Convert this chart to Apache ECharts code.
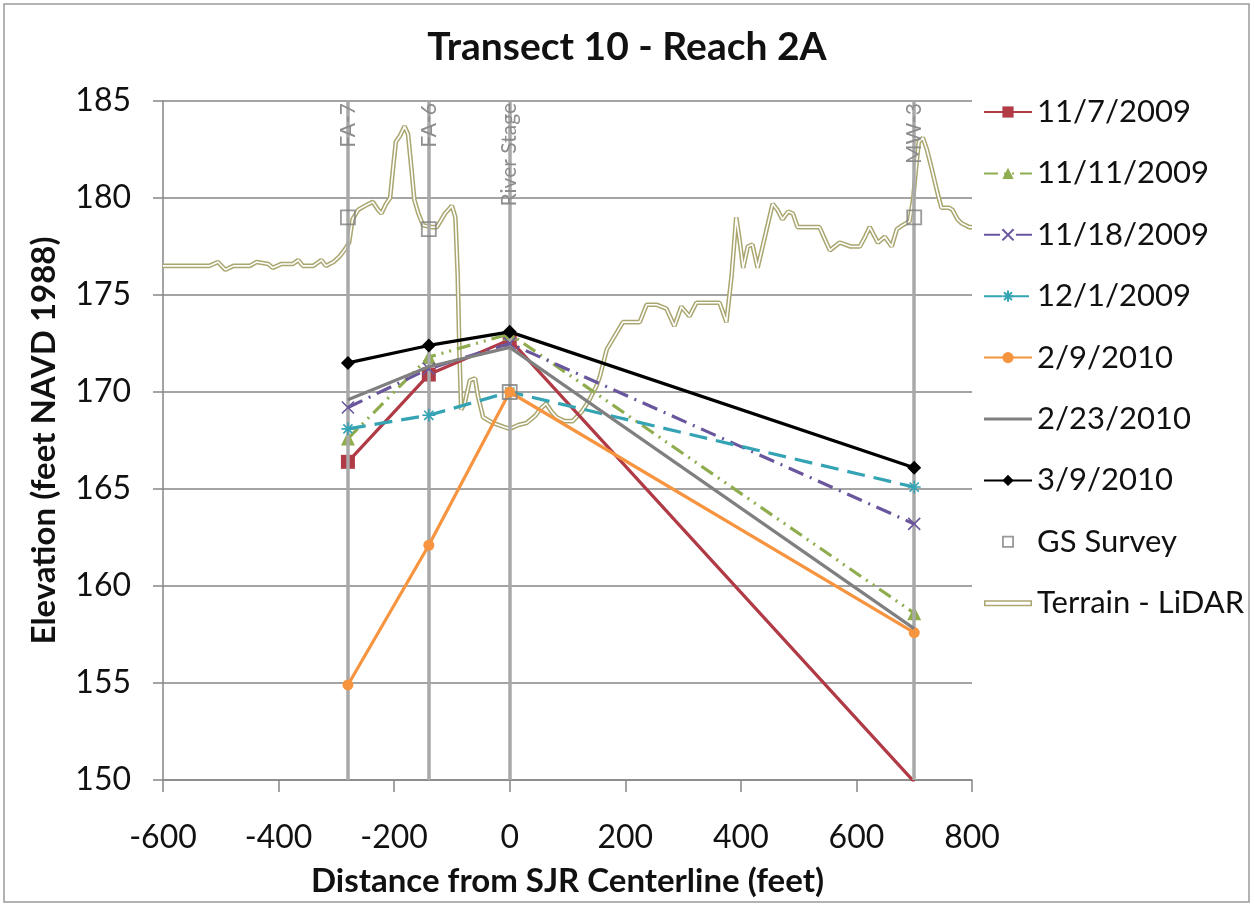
<!DOCTYPE html>
<html>
<head>
<meta charset="utf-8">
<title>Transect 10 - Reach 2A</title>
<script src="https://cdn.jsdelivr.net/npm/echarts@6/dist/echarts.min.js"></script>
<style>
    html, body { margin: 0; padding: 0; background: #fff; }
    #chart-panel { width: 1254px; height: 907px; }
</style>
</head>
<body>
<div id="chart-panel"></div>
<script>
// well positions along the transect (feet from SJR centerline)
var wellX = [-280, -140, 0, 700]
var wellNames = ['FA-7', 'FA-6', 'River Stage', 'MW-3']

// water level readings per date, one value per well
var dates = ['11/7/2009', '11/11/2009', '11/18/2009', '12/1/2009', '2/9/2010', '2/23/2010', '3/9/2010']
var lvl_1107 = [166.4, 170.9, 172.7, 149.9]
var lvl_1111 = [167.6, 171.8, 173.0, 158.6]
var lvl_1118 = [169.2, 171.2, 172.5, 163.2]
var lvl_1201 = [168.1, 168.8, 170.0, 165.1]
var lvl_0209 = [154.9, 162.1, 170.0, 157.6]
var lvl_0223 = [169.6, 171.3, 172.3, 157.8]
var lvl_0309 = [171.5, 172.4, 173.1, 166.1]

// ground surface survey at the wells
var surveyY = [179.0, 178.4, 170.0, 179.0]

// LiDAR terrain profile
var terrainX = [-600, -520, -505, -492, -478, -450, -438, -418, -410, -395, -375, -366, -358, -340, -326, -318,
    -305, -294, -284, -278, -272, -262, -250, -237, -228, -222, -214, -207, -202, -197, -190, -182, -176,
    -170, -165, -158, -150, -135, -126, -112, -100, -94, -90, -87, -84, -78, -69, -60, -55, -46, -29, -10,
    0, 15, 29, 45, 52, 63, 72, 81, 95, 109, 125, 138, 150, 156, 168, 178, 196, 225, 237, 254, 271, 285,
    297, 311, 323, 345, 363, 368, 375, 384, 392, 398, 404, 412, 420, 429, 440, 455, 463, 472, 482, 490,
    498, 515, 536, 545, 554, 571, 590, 606, 615, 623, 630, 637, 649, 661, 670, 680, 692, 698, 703, 708,
    715, 722, 732, 740, 747, 760, 766, 775, 782, 795, 800]
var terrainY = [176.5, 176.5, 176.7, 176.3, 176.5, 176.5, 176.7, 176.6, 176.4, 176.6, 176.6, 176.8, 176.5, 176.5, 176.8, 176.5,
    176.7, 177.0, 177.4, 177.7, 178.9, 179.4, 179.6, 179.8, 179.4, 179.2, 179.7, 180.0, 181.5, 182.9, 183.2, 183.7, 183.3,
    181.5, 179.9, 179.2, 178.6, 178.5, 178.5, 179.2, 179.6, 179.0, 176.0, 172.0, 169.1, 169.4, 170.6, 170.7, 169.8, 168.7, 168.4, 168.2,
    168.1, 168.3, 168.4, 168.8, 169.1, 169.4, 169.0, 168.7, 168.5, 168.5, 169.0, 169.6, 170.3, 170.8, 172.2, 172.7, 173.6, 173.6, 174.5, 174.5, 174.3, 173.4,
    174.4, 173.9, 174.6, 174.6, 174.6, 174.2, 173.6, 176.0, 179.0, 177.8, 176.4, 177.5, 177.6, 176.4, 177.8, 179.7, 179.4, 178.9, 179.3, 179.2,
    178.5, 178.5, 178.5, 177.9, 177.3, 177.7, 177.5, 177.5, 178.0, 178.5, 178.1, 177.7, 178.0, 177.5, 178.4, 178.6, 178.8, 179.9, 181.5, 182.9,
    183.1, 182.5, 181.3, 180.3, 179.5, 179.5, 179.4, 178.9, 178.7, 178.5, 178.5]

function pairs (xs, ys) {
    return xs.map(function (x, i) { return [x, ys[i]] })
}

var xMark = 'path://M0,0L10,10M10,0L0,10'
var starMark = 'path://M5,0L5,10M0,5L10,5M1.5,1.5L8.5,8.5M8.5,1.5L1.5,8.5'
// legend icons: tiny corner points keep the 48x14 box so the shapes are not stretched
var terrainIcon = 'path://M0,0L0,0Z M48,14L48,14Z M0,4H48V10H0Z M1.5,5.5V8.5H46.5V5.5Z'
var surveyIcon = 'path://M0,0L0,0Z M48,14L48,14Z M18,1H30V13H18Z M19.8,2.8V11.2H28.2V2.8Z'
var plainLineIcon = 'path://M0,0L0,0Z M48,14L48,14Z M0,5.5H48V8.5H0Z'

function levelSeries (name, values, color, dash, symbol, size, z) {
    return {
        name: name,
        type: 'line',
        z: z,
        data: pairs(wellX, values),
        symbol: symbol,
        symbolSize: size,
        showSymbol: symbol !== 'none',
        lineStyle: { color: color, width: 3.2, type: dash },
        itemStyle: { color: color, borderColor: color, borderWidth: symbol.indexOf('path') === 0 ? 1.6 : 0 },
        emphasis: { disabled: true },
        animation: false
    }
}

var axisGray = '#868686'
var txt = '#111'

var chartOption = {
    backgroundColor: '#fff',
    animation: false,
    graphic: [{
        type: 'rect',
        shape: { x: 4, y: 4, width: 1245, height: 898 },
        style: { fill: 'none', stroke: '#9a9a9a', lineWidth: 1.5 },
        silent: true
    }],
    title: {
        text: 'Transect 10 - Reach 2A',
        left: 'center',
        top: 23,
        textStyle: {
            fontFamily: 'Lato',
            fontWeight: 'bold',
            fontSize: 39,
            color: txt
        }
    },
    grid: {
        left: 163,
        right: 282,
        top: 101,
        bottom: 127
    },
    legend: {
        orient: 'vertical',
        left: 978,
        top: 91,
        itemWidth: 48,
        itemHeight: 14,
        itemGap: 29.4,
        textStyle: {
            fontFamily: 'Lato',
            fontSize: 31,
            lineHeight: 32,
            color: txt
        },
        data: dates.slice(0, 5).concat([
            { name: dates[5], icon: plainLineIcon, itemStyle: { color: '#808080', borderWidth: 0 } },
            dates[6],
            { name: 'GS Survey', icon: surveyIcon, itemStyle: { color: '#7f7f7f', borderWidth: 0 } },
            { name: 'Terrain - LiDAR', icon: terrainIcon, itemStyle: { color: '#aaa670', borderWidth: 0 } }
        ])
    },
    xAxis: {
        type: 'value',
        min: -600,
        max: 800,
        interval: 200,
        name: 'Distance from SJR Centerline (feet)',
        nameLocation: 'middle',
        nameGap: 85,
        nameTextStyle: {
            fontFamily: 'Lato',
            fontWeight: 'bold',
            fontSize: 33,
            color: txt
        },
        axisLine: { show: true, onZero: false, lineStyle: { color: axisGray, width: 1.5 } },
        axisTick: { show: true, length: 12, lineStyle: { color: axisGray, width: 1.5 } },
        axisLabel: {
            margin: 42,
            fontFamily: 'Lato',
            fontSize: 32,
            color: txt
        },
        splitLine: { show: false }
    },
    yAxis: {
        type: 'value',
        min: 150,
        max: 185,
        interval: 5,
        name: 'Elevation (feet NAVD 1988)',
        nameLocation: 'middle',
        nameGap: 102,
        nameTextStyle: {
            fontFamily: 'Lato',
            fontWeight: 'bold',
            fontSize: 33,
            color: txt
        },
        axisLine: { show: true, onZero: false, lineStyle: { color: axisGray, width: 1.5 } },
        axisTick: { show: true, length: 10, lineStyle: { color: axisGray, width: 1.5 } },
        axisLabel: {
            margin: 32,
            fontFamily: 'Lato',
            fontSize: 32,
            color: txt
        },
        splitLine: { show: true, lineStyle: { color: axisGray, width: 1.5 } }
    },
    series: [
        {
            // well position lines
            name: 'wells',
            type: 'line',
            z: 1,
            data: [],
            silent: true,
            markLine: {
                silent: true,
                symbol: ['none', 'none'],
                animation: false,
                lineStyle: { color: '#a9a9a9', width: 3.5, type: 'solid' },
                label: {
                    show: true,
                    position: 'insideEnd',
                    distance: 2,
                    formatter: '{b}',
                    fontFamily: 'Lato',
                    fontSize: 21,
                    color: '#8c8c8c'
                },
                data: wellX.map(function (x, i) {
                    return [{ coord: [x, 150], name: wellNames[i] }, { coord: [x, 185] }]
                })
            }
        },
        {
            name: 'Terrain - LiDAR',
            type: 'line',
            z: 2,
            data: pairs(terrainX, terrainY),
            showSymbol: false,
            symbol: 'none',
            lineStyle: { color: '#aaa670', width: 4.6 },
            itemStyle: { color: '#aaa670' },
            emphasis: { disabled: true }
        },
        {
            // inner gap of the double terrain line
            name: 'terrain-inner',
            type: 'line',
            z: 2,
            data: pairs(terrainX, terrainY),
            showSymbol: false,
            symbol: 'none',
            lineStyle: { color: '#ffffff', width: 1.6 },
            emphasis: { disabled: true }
        },
        levelSeries(dates[0], lvl_1107, '#b03a45', 'solid', 'rect', 14, 3),
        levelSeries(dates[1], lvl_1111, '#8fad4e', [14, 6, 2, 6, 2, 6], 'triangle', 14, 4),
        levelSeries(dates[2], lvl_1118, '#6a569c', [16, 7, 2, 7], xMark, 12, 5),
        levelSeries(dates[3], lvl_1201, '#34a3b4', [18, 9], starMark, 13, 6),
        levelSeries(dates[4], lvl_0209, '#f7943f', 'solid', 'circle', 11, 7),
        levelSeries(dates[5], lvl_0223, '#808080', 'solid', 'none', 0, 8),
        levelSeries(dates[6], lvl_0309, '#000000', 'solid', 'diamond', 14, 9),
        {
            name: 'GS Survey',
            type: 'scatter',
            z: 10,
            data: pairs(wellX, surveyY),
            symbol: 'rect',
            symbolSize: 14,
            itemStyle: { color: 'rgba(255,255,255,0)', borderColor: '#7f7f7f', borderWidth: 1.8 },
            emphasis: { disabled: true }
        }
    ]
}

var chartPanel = document.getElementById('chart-panel')
var myChart = echarts.init(chartPanel)
myChart.setOption(chartOption)
</script>
</body>
</html>
